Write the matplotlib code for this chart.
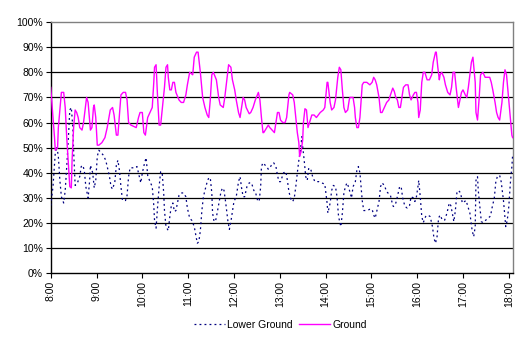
import matplotlib
matplotlib.use("Agg")
import matplotlib.pyplot as plt
from matplotlib.ticker import FuncFormatter

plt.rcParams['font.family'] = ['Liberation Sans', 'DejaVu Sans']

# minutes after 8:00
ground_min = [
    0, 3, 5, 6, 9, 10, 12, 14, 17, 19,
    21, 23, 25, 27, 28, 30, 32, 34, 36, 38,
    41, 43, 45, 47, 49, 51, 52, 54, 56, 57,
    59, 61, 63, 67, 71, 74, 78, 81, 83, 86,
    88, 90, 92, 95, 98, 100, 102, 105, 112, 115,
    117, 120, 122, 124, 127, 130, 133, 135, 136, 138,
    140, 142, 144, 146, 149, 151, 153, 154, 156, 158,
    160, 162, 164, 168, 171, 174, 177, 179, 182, 186,
    188, 191, 193, 196, 199, 202, 205, 207, 209, 211,
    213, 217, 220, 222, 226, 228, 231, 233, 236, 238,
    241, 243, 246, 248, 250, 252, 254, 256, 260, 262,
    265, 268, 272, 274, 276, 278, 279, 282, 285, 287,
    290, 293, 295, 297, 299, 301, 304, 307, 309, 312,
    313, 317, 319, 321, 323, 325, 326, 328, 330, 331,
    333, 335, 337, 339, 342, 345, 348, 353, 357, 359,
    362, 363, 366, 368, 371, 373, 376, 378, 380, 382,
    384, 386, 389, 391, 392, 396, 398, 399, 401, 403,
    405, 408, 410, 414, 418, 421, 423, 425, 427, 430,
    432, 434, 437, 440, 443, 445, 448, 450, 452, 454,
    456, 458, 460, 462, 465, 468, 470, 472, 475, 477,
    479, 481, 482, 484, 486, 488, 490, 493, 496, 499,
    501, 504, 505, 507, 509, 510, 512, 515, 517, 520,
    523, 525, 527, 529, 531, 534, 536, 538, 540, 543,
    545, 547, 549, 551, 553, 556, 557, 559, 561, 563,
    566, 569, 572, 575, 577, 579, 582, 584, 586, 588,
    591, 593, 595, 597, 599, 601, 604, 605,
]
ground_pct = [
    74, 62, 54, 49, 50, 58, 65, 72, 72, 66,
    54, 44, 34.5, 34, 45, 58, 65, 64, 62, 58,
    57, 60, 65, 70, 68, 61, 57, 58, 66, 67,
    62, 51, 51, 52, 54, 58, 65, 66, 63, 55,
    55, 63, 71, 72, 72, 69, 60, 59, 58, 62,
    64, 64, 56, 55, 62, 64, 66, 76, 82, 83,
    70, 59, 59, 65, 74, 82, 83, 78, 73, 73,
    76, 76, 72, 69, 68, 68, 71, 75, 80, 79,
    86, 88, 88, 80, 70, 66, 63, 62, 69, 79,
    80, 77, 70, 67, 66, 70, 78, 83, 82, 77,
    73, 69, 64, 62, 66, 70, 69, 66, 63.5, 64,
    66, 69, 72, 69, 62, 56, 56, 57.5, 59, 58,
    57, 56, 60, 64, 64, 61, 60, 60, 62, 71,
    72, 71, 68, 62, 56, 52, 46.5, 48.5, 53, 60,
    65.5, 65, 58, 60, 63, 63, 62, 64, 65, 66,
    76, 76, 68, 65, 66, 69, 78, 82, 81, 73,
    66, 64, 65, 69, 70, 70, 66, 62, 58, 58,
    62, 75, 76, 76, 75, 76, 78, 77, 75, 70,
    64, 64, 66, 68, 69, 71, 73.7, 72.4, 70, 69,
    66, 66, 70, 74, 75, 75, 71, 69, 71, 72,
    72, 68, 62, 65, 76, 80, 80, 77, 77, 79,
    84, 88, 88, 82, 77, 79, 80, 78, 75, 72,
    71, 74, 80, 80, 74, 66, 69, 72, 73, 71,
    70, 74, 79, 84, 86, 76, 64, 61, 69, 79,
    80, 78, 78, 78, 76, 73, 68, 64, 62, 61,
    68, 76, 81, 79, 72, 65, 55, 54,
]

lower_min = [
    0, 3, 6, 8, 10, 12, 14, 17, 19, 21,
    23, 25, 27, 29, 30, 32, 35, 38, 40, 42,
    44, 46, 49, 51, 52, 55, 57, 59, 61, 63,
    66, 69, 72, 74, 77, 79, 81, 84, 86, 88,
    90, 92, 94, 98, 100, 102, 104, 111, 113, 116,
    118, 120, 123, 125, 127, 130, 133, 135, 136, 138,
    140, 142, 144, 146, 148, 149, 151, 154, 156, 158,
    160, 162, 164, 166, 168, 171, 174, 177, 179, 182,
    185, 188, 192, 194, 196, 198, 200, 202, 205, 207,
    209, 211, 212, 214, 216, 218, 221, 223, 225, 227,
    229, 232, 234, 236, 238, 240, 243, 246, 248, 250,
    252, 254, 257, 260, 263, 266, 268, 271, 273, 275,
    276, 278, 281, 283, 285, 287, 289, 292, 295, 297,
    299, 301, 305, 308, 310, 312, 315, 317, 319, 321,
    323, 325, 327, 329, 330, 332, 334, 336, 338, 341,
    343, 346, 351, 355, 359, 362, 363, 366, 368, 370,
    373, 375, 377, 380, 382, 384, 386, 388, 390, 394,
    396, 399, 401, 403, 405, 408, 410, 414, 418, 421,
    423, 425, 427, 430, 432, 434, 437, 440, 445, 448,
    449, 452, 454, 457, 459, 461, 464, 467, 470, 472,
    475, 477, 479, 481, 482, 484, 486, 488, 491, 494,
    497, 500, 502, 504, 506, 508, 510, 513, 516, 519,
    522, 524, 526, 528, 530, 532, 534, 537, 539, 542,
    544, 547, 549, 552, 554, 556, 557, 559, 560, 562,
    564, 566, 570, 573, 576, 578, 581, 583, 585, 588,
    590, 593, 595, 596, 598, 600, 602, 604, 605,
]
lower_pct = [
    27, 34.5, 48, 50.5, 46.5, 37, 30.5, 28, 33, 42.5,
    53, 65, 66, 58, 49, 35, 36, 38.5, 42.5, 43,
    41, 34.5, 30, 37, 43, 40, 34, 37, 46.5, 49,
    48, 47, 45, 42.5, 38.5, 34.5, 33.5, 36.5, 43, 45,
    41, 34.5, 29, 29, 31, 38.5, 42, 42, 42.5, 38.5,
    36, 40, 44, 46, 39, 36.5, 34.5, 27, 21, 18,
    26.6, 34.5, 40.5, 40, 32, 25, 18.6, 17, 22.6, 27,
    28, 24.6, 25, 28, 31, 32, 32, 30.5, 26, 22,
    21, 18.6, 12, 12.6, 17, 25, 30.5, 33, 36.5, 38,
    38, 32, 24, 20.6, 21, 24, 29, 32.5, 34, 33,
    28.6, 21, 17.5, 20.6, 24.6, 28.6, 30.5, 36.5, 38.5, 34,
    30.5, 30.5, 34.5, 36, 36, 33, 32.5, 29, 28.6, 34.5,
    42.5, 44, 43, 42.5, 41.4, 42, 43, 44, 42.5, 39,
    36.5, 36.5, 40, 40.5, 37, 32.5, 29, 28.6, 30, 34.5,
    40, 45, 49, 54.4, 50.5, 45, 38.5, 37, 42, 41,
    38.5, 36.5, 36.5, 36, 35.5, 28, 24, 28, 33, 35,
    34.5, 30.5, 22.6, 18.6, 24, 32, 34.5, 36, 34.5, 30,
    34.5, 36.5, 41, 42.5, 40, 29, 25, 25, 25.5, 25.5,
    23.2, 22, 24.6, 28.6, 34.5, 36, 35, 32.5, 31, 27,
    26.6, 28, 30.5, 34.5, 34.5, 30, 26.6, 26, 27, 30.5,
    30, 28.6, 30.5, 34.5, 37, 30.5, 22.6, 20.2, 22.6, 23.2,
    22.6, 18.6, 14, 12, 14.6, 22, 23.2, 21.2, 21.2, 24,
    28, 27, 24, 20.6, 25, 32, 33, 32, 28, 28.6,
    29, 26, 24, 17, 14.6, 18.6, 37, 38.5, 33, 27,
    20.6, 20.2, 21.2, 22, 22.8, 26, 30, 36.5, 38.5, 39,
    36.5, 29, 22, 18.6, 21.2, 26.6, 35.8, 42.5, 47,
]

hour_min = [0, 60, 120, 180, 240, 300, 360, 420, 480, 540, 600]
hour_labels = ["8:00", "9:00", "10:00", "11:00", "12:00", "13:00",
               "14:00", "15:00", "16:00", "17:00", "18:00"]
pct_ticks = [0, 10, 20, 30, 40, 50, 60, 70, 80, 90, 100]

fig = plt.figure(figsize=(5.26, 3.40), dpi=100)
ax = fig.add_axes([0.0964, 0.1959, 0.9753 - 0.0964, 0.9353 - 0.1959])

l1, = ax.plot(lower_min, lower_pct, color='#000080', lw=0.9,
              linestyle=(0, (1.5, 2.5)), label='Lower Ground', zorder=3)
l2, = ax.plot(ground_min, ground_pct, color='#FF00FF', lw=1.0,
              label='Ground', zorder=4)

ax.set_xlim(0, 605.5)
ax.set_ylim(0, 100)
ax.set_yticks(pct_ticks)
ax.yaxis.set_major_formatter(FuncFormatter(lambda v, p: f"{int(v)}%"))
ax.set_xticks(hour_min)
ax.set_xticklabels(hour_labels, rotation=90)

ax.set_axisbelow(True)
ax.yaxis.grid(True, color='black', lw=0.9)
gl = ax.yaxis.get_gridlines()
gl[0].set_visible(False)
gl[-1].set_visible(False)

for s in ('top', 'right'):
    ax.spines[s].set_color('#808080')
    ax.spines[s].set_linewidth(1.0)
for s in ('left', 'bottom'):
    ax.spines[s].set_color('black')
    ax.spines[s].set_linewidth(1.0)

ax.tick_params(axis='both', direction='out', length=3.5, width=0.8,
               labelsize=7.5, colors='black', pad=2)

fig.legend(handles=[l1, l2], loc='center', bbox_to_anchor=(0.533, 0.044),
           ncol=2, frameon=False, fontsize=7.5, handlelength=3.0,
           handletextpad=0.2, columnspacing=0.6)

fig.savefig('out.png', dpi=100)
